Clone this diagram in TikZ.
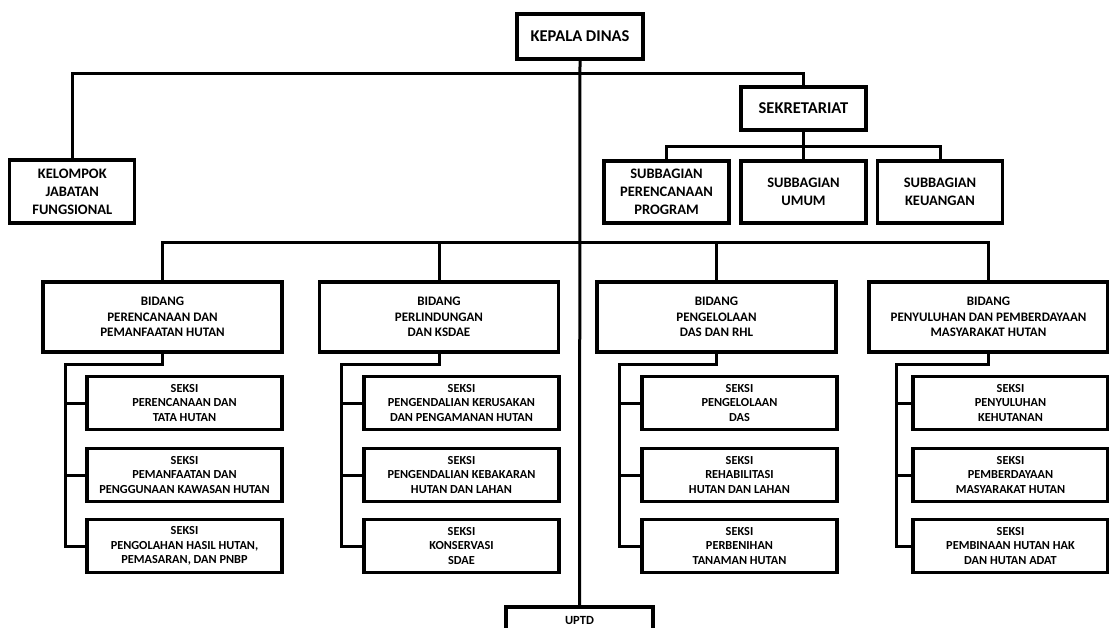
\documentclass[tikz,border=0pt]{standalone}
\usepackage{fontspec}
\setmainfont{Carlito}
\usepackage{tikz}
\tikzset{>=latex}
\tikzset{%
  unit/.style={draw,line width=3.2pt,fill=white,align=center,inner sep=0pt,text=black},
  headbox/.style={unit,font=\fontsize{16.5}{20}\selectfont\bfseries,minimum width=126pt,minimum height=45pt},
  subbox/.style={unit,font=\fontsize{14.5}{17.8}\selectfont\bfseries,minimum width=125pt,minimum height=62pt},
  bidbox/.style={unit,font=\fontsize{13}{15.6}\selectfont\bfseries,minimum width=239pt,minimum height=70pt},
  seksibox/.style={unit,font=\fontsize{12.3}{14.7}\selectfont\bfseries,minimum width=195pt,minimum height=53pt},
  uptdbox/.style={unit,font=\fontsize{12.5}{15}\selectfont\bfseries,minimum width=147pt,minimum height=26pt},
  link/.style={line width=3pt}
}

\begin{document}
\begin{tikzpicture}[x=1pt,y=-1pt]
    \useasboundingbox (0,0) rectangle (1109,627);
    \clip (0,0) rectangle (1109,627);
    % pimpinan dan sekretariat
    \node[headbox] (kadis) at (580,36.5) {KEPALA DINAS};
    \node[subbox,minimum height=63pt] (kjf) at (72.3,191.5) {KELOMPOK\\JABATAN\\FUNGSIONAL};
    \node[headbox,minimum width=125pt,minimum height=43pt] (sekre) at (803.5,108.5) {SEKRETARIAT};
    \node[subbox] (sub1) at (666.5,192) {SUBBAGIAN\\PERENCANAAN\\PROGRAM};
    \node[subbox] (sub2) at (803.5,192) {SUBBAGIAN\\UMUM};
    \node[subbox] (sub3) at (940,192) {SUBBAGIAN\\KEUANGAN};
    % bidang
    \node[bidbox] (bid1) at (162.5,317) {BIDANG\\PERENCANAAN DAN\\PEMANFAATAN HUTAN};
    \node[bidbox] (bid2) at (439,317) {BIDANG\\PERLINDUNGAN\\DAN KSDAE};
    \node[bidbox] (bid3) at (716.5,317) {BIDANG\\PENGELOLAAN\\DAS DAN RHL};
    \node[bidbox] (bid4) at (988.5,317) {BIDANG\\PENYULUHAN DAN PEMBERDAYAAN\\MASYARAKAT HUTAN};
    % seksi
    \node[seksibox] (s11) at (184.5,403) {SEKSI\\PERENCANAAN DAN\\TATA HUTAN};
    \node[seksibox] (s12) at (184.5,475) {SEKSI\\PEMANFAATAN DAN\\PENGGUNAAN KAWASAN HUTAN};
    \node[seksibox] (s13) at (184.5,546) {SEKSI\\PENGOLAHAN HASIL HUTAN,\\PEMASARAN, DAN PNBP};
    \node[seksibox] (s21) at (461.5,403) {SEKSI\\PENGENDALIAN KERUSAKAN\\DAN PENGAMANAN HUTAN};
    \node[seksibox] (s22) at (461.5,475) {SEKSI\\PENGENDALIAN KEBAKARAN\\HUTAN DAN LAHAN};
    \node[seksibox] (s23) at (461.5,546) {SEKSI\\KONSERVASI\\SDAE};
    \node[seksibox] (s31) at (739.5,403) {SEKSI\\PENGELOLAAN\\DAS};
    \node[seksibox] (s32) at (739.5,475) {SEKSI\\REHABILITASI\\HUTAN DAN LAHAN};
    \node[seksibox] (s33) at (739.5,546) {SEKSI\\PERBENIHAN\\TANAMAN HUTAN};
    \node[seksibox] (s41) at (1010.5,403) {SEKSI\\PENYULUHAN\\KEHUTANAN};
    \node[seksibox] (s42) at (1010.5,475) {SEKSI\\PEMBERDAYAAN\\MASYARAKAT HUTAN};
    \node[seksibox] (s43) at (1010.5,546) {SEKSI\\PEMBINAAN HUTAN HAK\\DAN HUTAN ADAT};
    \node[uptdbox] (uptd) at (579.5,620) {UPTD};
    % garis
    \coordinate (topbar) at (580,73);
    \coordinate (subbar) at (803.5,146);
    \coordinate (bidbar) at (580,242);
    \draw[link] (kadis.south) -- (uptd.north);
    \draw[link] (kjf.north) |- (topbar) -| (sekre.north);
    \draw[link] (sub1.north) |- (subbar) -| (sub3.north);
    \draw[link] (sekre.south) -- (sub2.north);
    \draw[link] (bid1.north) |- (bidbar) -| (bid4.north);
    \draw[link] (bid2.north) -- (bid2.north |- bidbar);
    \draw[link] (bid3.north) -- (bid3.north |- bidbar);
    \coordinate (k1) at (65,364);
    \coordinate (k2) at (341,364);
    \coordinate (k3) at (619,364);
    \coordinate (k4) at (896,364);
    \draw[link] (bid1.south) |- (k1) |- (s13.west);
    \draw[link] (k1 |- s11.west) -- (s11.west);
    \draw[link] (k1 |- s12.west) -- (s12.west);
    \draw[link] (bid2.south) |- (k2) |- (s23.west);
    \draw[link] (k2 |- s21.west) -- (s21.west);
    \draw[link] (k2 |- s22.west) -- (s22.west);
    \draw[link] (bid3.south) |- (k3) |- (s33.west);
    \draw[link] (k3 |- s31.west) -- (s31.west);
    \draw[link] (k3 |- s32.west) -- (s32.west);
    \draw[link] (bid4.south) |- (k4) |- (s43.west);
    \draw[link] (k4 |- s41.west) -- (s41.west);
    \draw[link] (k4 |- s42.west) -- (s42.west);
\end{tikzpicture}
\end{document}
